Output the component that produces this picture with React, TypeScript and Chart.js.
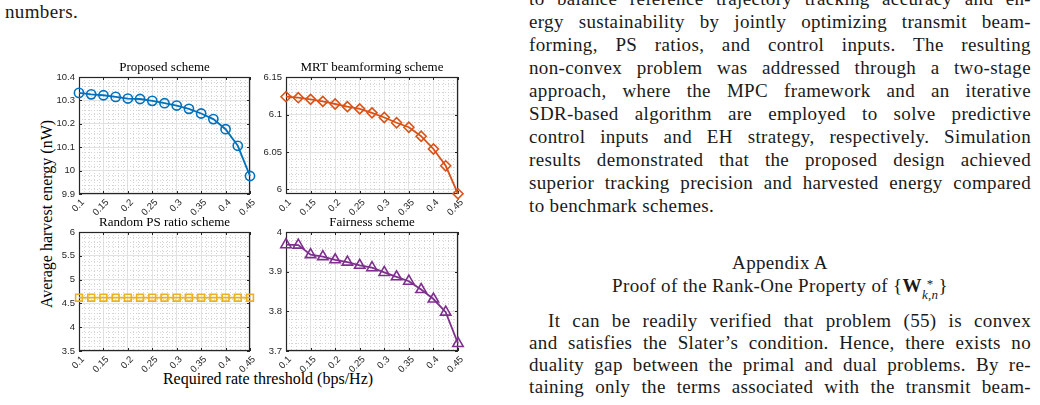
import React, { useEffect, useRef } from "react";
import { Chart, registerables } from "chart.js";

Chart.register(...registerables);

// ---------------- data ----------------
const X_VALUES = [0.1, 0.125, 0.15, 0.175, 0.2, 0.225, 0.25, 0.275, 0.3, 0.325, 0.35, 0.375, 0.4, 0.425, 0.45];
const X_TICKS = [0.1, 0.15, 0.2, 0.25, 0.3, 0.35, 0.4, 0.45];

const PROPOSED = [10.332, 10.326, 10.322, 10.315, 10.308, 10.306, 10.298, 10.288, 10.278, 10.264, 10.244, 10.22, 10.177, 10.106, 9.977];
const MRT = [6.1237, 6.1224, 6.1202, 6.1175, 6.114, 6.1105, 6.1075, 6.1022, 6.096, 6.089, 6.083, 6.071, 6.054, 6.0316, 5.9943];
const RANDOM_PS = [4.62, 4.62, 4.62, 4.62, 4.62, 4.62, 4.62, 4.62, 4.62, 4.62, 4.62, 4.62, 4.62, 4.62, 4.62];
const FAIRNESS = [3.968, 3.967, 3.943, 3.938, 3.93, 3.924, 3.916, 3.91, 3.898, 3.887, 3.876, 3.855, 3.831, 3.798, 3.719];

const PROPOSED_TICKS = [9.9, 10, 10.1, 10.2, 10.3, 10.4];
const MRT_TICKS = [6, 6.05, 6.1, 6.15];
const RANDOM_PS_TICKS = [3.5, 4, 4.5, 5, 5.5, 6];
const FAIRNESS_TICKS = [3.7, 3.8, 3.9, 4];

const TITLES = ["Proposed scheme", "MRT beamforming scheme", "Random PS ratio scheme", "Fairness scheme"];
const Y_LABEL = "Average harvest energy (nW)";
const X_LABEL = "Required rate threshold (bps/Hz)";

// ---------------- styles ----------------
const SERIF = '"Liberation Serif", "Times New Roman", serif';
const SANS = '"Liberation Sans", Arial, sans-serif';
const AXIS_COLOR = "#262626";
const MAJOR_GRID = "#e2e2e2";
const MINOR_GRID = "#d4d4d4";

const YW = 34; // y-axis width
const PR = 34; // right padding
const TH = 16; // title box height
const XH = 28; // x-axis height

type Panel = {
  title: string;
  values: number[];
  color: string;
  pointStyle: string;
  radius: number;
  yMin: number;
  yMax: number;
  yTicks: number[];
  yMinorStep: number;
  frame: [number, number, number, number];
};

const PANELS: Panel[] = [
  { title: TITLES[0], values: PROPOSED, color: "#0072BD", pointStyle: "circle", radius: 4.6, yMin: 9.9, yMax: 10.4, yTicks: PROPOSED_TICKS, yMinorStep: 0.02, frame: [79, 77, 250, 194] },
  { title: TITLES[1], values: MRT, color: "#D95319", pointStyle: "rectRot", radius: 5, yMin: 5.994, yMax: 6.15, yTicks: MRT_TICKS, yMinorStep: 0.01, frame: [286, 77, 458, 194] },
  { title: TITLES[2], values: RANDOM_PS, color: "#EDB120", pointStyle: "rect", radius: 4.8, yMin: 3.5, yMax: 6, yTicks: RANDOM_PS_TICKS, yMinorStep: 0.1, frame: [79, 232, 250, 351] },
  { title: TITLES[3], values: FAIRNESS, color: "#7E2F8E", pointStyle: "triangle", radius: 6, yMin: 3.7, yMax: 4, yTicks: FAIRNESS_TICKS, yMinorStep: 0.02, frame: [286, 232, 458, 351] },
];

function minorValues(min: number, max: number, step: number, majors: number[]) {
  const out: number[] = [];
  const n0 = Math.ceil(min / step - 1e-9);
  const n1 = Math.floor(max / step + 1e-9);
  for (let n = n0; n <= n1; n++) {
    const v = n * step;
    if (!majors.some((m) => Math.abs(m - v) < step * 0.01)) out.push(v);
  }
  return out;
}

const fmt = (v: number) => String(+Number(v).toFixed(3));

const matlabAxes = {
  id: "matlabAxes",
  beforeDatasetsDraw(chart: any, _args: any, opts: any) {
    const { ctx, chartArea } = chart;
    const { left, top, right, bottom } = chartArea;
    const xs = chart.scales.x;
    const ys = chart.scales.y;
    ctx.save();
    ctx.lineWidth = 1;
    ctx.strokeStyle = MINOR_GRID;
    ctx.setLineDash([1, 2]);
    for (const v of opts.xMinor || []) {
      const px = Math.round(xs.getPixelForValue(v)) + 0.5;
      ctx.beginPath();
      ctx.moveTo(px, top);
      ctx.lineTo(px, bottom);
      ctx.stroke();
    }
    for (const v of opts.yMinor || []) {
      const py = Math.round(ys.getPixelForValue(v)) + 0.5;
      ctx.beginPath();
      ctx.moveTo(left, py);
      ctx.lineTo(right, py);
      ctx.stroke();
    }
    ctx.setLineDash([]);
    ctx.strokeStyle = AXIS_COLOR;
    ctx.lineWidth = 1.2;
    ctx.strokeRect(left + 0.5, top + 0.5, right - left - 1, bottom - top - 1);
    const tl = 3;
    ctx.lineWidth = 1;
    for (const t of xs.ticks) {
      const px = Math.round(xs.getPixelForValue(t.value)) + 0.5;
      ctx.beginPath();
      ctx.moveTo(px, bottom);
      ctx.lineTo(px, bottom - tl);
      ctx.moveTo(px, top);
      ctx.lineTo(px, top + tl);
      ctx.stroke();
    }
    for (const t of ys.ticks) {
      const py = Math.round(ys.getPixelForValue(t.value)) + 0.5;
      ctx.beginPath();
      ctx.moveTo(left, py);
      ctx.lineTo(left + tl, py);
      ctx.moveTo(right, py);
      ctx.lineTo(right - tl, py);
      ctx.stroke();
    }
    ctx.restore();
  },
};

function PanelChart({ p }: { p: Panel }) {
  const ref = useRef<HTMLCanvasElement>(null);
  const [L, T, R, B] = p.frame;
  const cw = R - L + YW + PR;
  const ch = B - T + TH + XH;
  useEffect(() => {
    if (!ref.current) return;
    const tickFont = { family: SANS, size: 9.5 };
    const chart = new Chart(ref.current, {
      type: "line",
      data: {
        datasets: [
          {
            data: X_VALUES.map((x, i) => ({ x, y: p.values[i] })),
            borderColor: p.color,
            borderWidth: 1.8,
            pointStyle: p.pointStyle as any,
            pointRadius: p.radius,
            pointBorderWidth: 1.6,
            pointBorderColor: p.color,
            pointBackgroundColor: "rgba(0,0,0,0)",
            fill: false,
            tension: 0,
            clip: false as any,
          },
        ],
      },
      options: {
        responsive: false,
        animation: false,
        devicePixelRatio: 1,
        layout: { padding: { left: 0, right: PR, top: 0, bottom: 0 } },
        plugins: {
          legend: { display: false },
          tooltip: { enabled: false },
          title: {
            display: true,
            fullSize: false,
            text: p.title,
            color: "#000",
            font: { family: SERIF, size: 13, weight: "normal", lineHeight: "14px" } as any,
            padding: { top: 0, bottom: 2 },
          },
          matlabAxes: {
            xMinor: minorValues(0.1, 0.45, 0.01, X_TICKS),
            yMinor: minorValues(p.yMin, p.yMax, p.yMinorStep, p.yTicks),
          },
        } as any,
        scales: {
          x: {
            type: "linear",
            min: 0.1,
            max: 0.45,
            afterBuildTicks: (s: any) => {
              s.ticks = X_TICKS.map((v) => ({ value: v }));
            },
            afterFit: (s: any) => {
              s.height = XH;
            },
            ticks: {
              autoSkip: false,
              minRotation: 45,
              maxRotation: 45,
              padding: 3,
              labelOffset: 4,
              color: AXIS_COLOR,
              font: tickFont,
              callback: (v: any) => fmt(v),
            },
            grid: { color: MAJOR_GRID, drawTicks: false, lineWidth: 1 },
            border: { display: false },
          },
          y: {
            type: "linear",
            min: p.yMin,
            max: p.yMax,
            afterBuildTicks: (s: any) => {
              s.ticks = p.yTicks.map((v) => ({ value: v }));
            },
            afterFit: (s: any) => {
              s.width = YW;
            },
            ticks: {
              autoSkip: false,
              padding: 4,
              color: AXIS_COLOR,
              font: tickFont,
              callback: (v: any) => fmt(v),
            },
            grid: { color: MAJOR_GRID, drawTicks: false, lineWidth: 1 },
            border: { display: false },
          },
        },
      },
      plugins: [matlabAxes as any],
    });
    return () => chart.destroy();
  }, []);
  return (
    <canvas
      ref={ref}
      width={cw}
      height={ch}
      style={{ position: "absolute", left: L - YW, top: T - TH, width: cw, height: ch }}
    />
  );
}

// ---------------- surrounding page text ----------------
const FS = 19;
const LH = 22;
const XC = 13; // offset from line-box top to x-height centre

function Line({ text, left, width, cy, justify = true }: { text: string; left: number; width: number; cy: number; justify?: boolean }) {
  return (
    <div
      style={{
        position: "absolute",
        left,
        top: cy - XC,
        width,
        height: LH,
        lineHeight: LH + "px",
        fontSize: FS,
        letterSpacing: "0.35px",
        whiteSpace: "nowrap",
        display: justify ? "flex" : "block",
        justifyContent: "space-between",
      }}
    >
      {justify ? text.split(" ").map((w, i) => <span key={i}>{w}</span>) : text}
    </div>
  );
}

const COL_L = 529;
const COL_W = 502;
const TOP_Y0 = 0.5;
const TOP_STEP = 23;

const TOP_LINES = [
  "to balance reference trajectory tracking accuracy and en-",
  "ergy sustainability by jointly optimizing transmit beam-",
  "forming, PS ratios, and control inputs. The resulting",
  "non-convex problem was addressed through a two-stage",
  "approach, where the MPC framework and an iterative",
  "SDR-based algorithm are employed to solve predictive",
  "control inputs and EH strategy, respectively. Simulation",
  "results demonstrated that the proposed design achieved",
  "superior tracking precision and harvested energy compared",
];
const TOP_LAST = "to benchmark schemes.";
const BOTTOM_LINES = [
  "It can be readily verified that problem (55) is convex",
  "and satisfies the Slater\u2019s condition. Hence, there exists no",
  "duality gap between the primal and dual problems. By re-",
  "taining only the terms associated with the transmit beam-",
];

export default function App() {
  return (
    <div
      style={{
        position: "absolute",
        left: 0,
        top: 0,
        width: 1040,
        height: 405,
        overflow: "hidden",
        background: "#fff",
        fontFamily: SERIF,
        color: "#1a1a1a",
      }}
    >
      <Line text="numbers." left={5} width={200} cy={14} justify={false} />

      {TOP_LINES.map((t, i) => (
        <Line key={"t" + i} text={t} left={COL_L} width={COL_W} cy={TOP_Y0 + i * TOP_STEP} />
      ))}
      <Line text={TOP_LAST} left={COL_L} width={COL_W} cy={TOP_Y0 + 9 * TOP_STEP} justify={false} />

      <div style={{ position: "absolute", left: COL_L, width: COL_W, top: 265 - XC, lineHeight: LH + "px", fontSize: FS, letterSpacing: "0.35px", textAlign: "center" }}>
        Appendix A
      </div>
      <div style={{ position: "absolute", left: COL_L, width: COL_W, top: 288 - XC, lineHeight: LH + "px", fontSize: FS, letterSpacing: "0.35px", textAlign: "center", whiteSpace: "nowrap" }}>
        Proof of the Rank-One Property of {"{"}
        <b>W</b>
        <span style={{ display: "inline-flex", flexDirection: "column", verticalAlign: "middle", fontSize: 13, lineHeight: "11px", marginTop: 2 }}>
          <span>*</span>
          <span style={{ fontStyle: "italic" }}>k,n</span>
        </span>
        {"}"}
      </div>

      {BOTTOM_LINES.map((t, i) => (
        <Line key={"b" + i} text={t} left={i === 0 ? COL_L + 19 : COL_L} width={i === 0 ? COL_W - 19 : COL_W} cy={323 + i * 22} />
      ))}

      <div
        style={{
          position: "absolute",
          left: 46.5,
          top: 214,
          transform: "translate(-50%, -50%) rotate(-90deg)",
          fontSize: 16,
          whiteSpace: "nowrap",
          color: "#000",
        }}
      >
        {Y_LABEL}
      </div>
      <div
        style={{
          position: "absolute",
          left: 268,
          top: 379,
          transform: "translate(-50%, -50%)",
          fontSize: 16,
          whiteSpace: "nowrap",
          color: "#000",
        }}
      >
        {X_LABEL}
      </div>

      {PANELS.map((p, i) => (
        <PanelChart key={i} p={p} />
      ))}
    </div>
  );
}
